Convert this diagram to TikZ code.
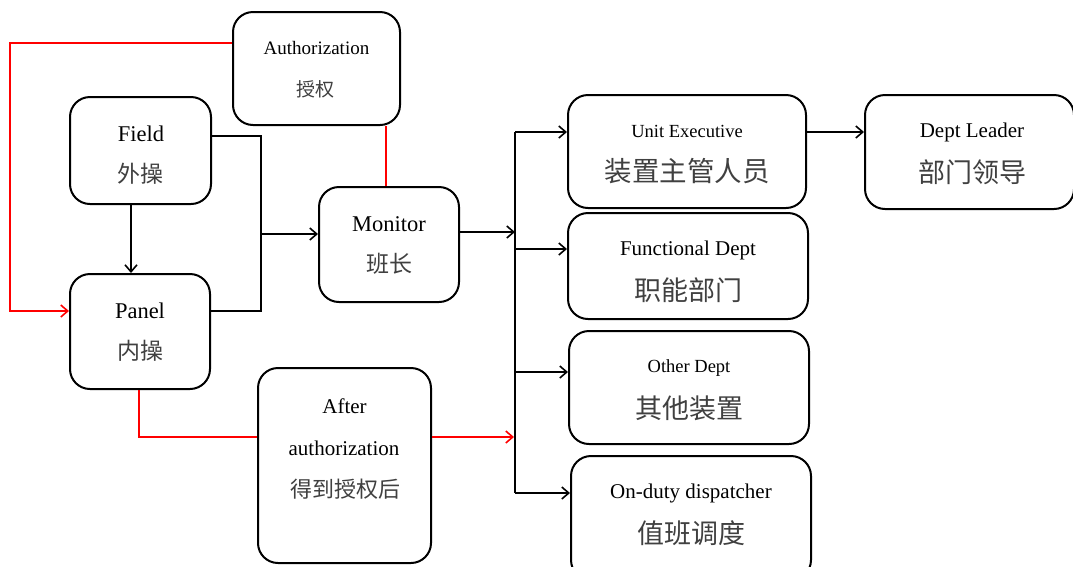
\documentclass[tikz,border=0pt]{standalone}
\usepackage{fontspec}
\setmainfont{Liberation Serif}
\newfontfamily\cjk{Noto Sans CJK SC}
\usetikzlibrary{arrows.meta}
\tikzset{
  box/.style={draw, line width=2pt, rounded corners=20pt, inner sep=0pt},
  txt/.style={inner sep=0pt, text=black},
  zhtxt/.style={inner sep=0pt, text=black!75},
  link/.style={line width=1.7pt},
  authlink/.style={line width=1.6pt, draw=red},
  tip/.style={-{Straight Barb[length=7pt,width=12pt,line width=1.6pt]}},
}
\newcommand{\fs}[1]{\fontsize{#1}{#1}\selectfont}
\begin{document}
\begin{tikzpicture}[x=1pt, y=-1pt]
\useasboundingbox (0,0) rectangle (1073,566);
\clip (0,0) rectangle (1073,566);

% boxes
\node[box, minimum width=167pt, minimum height=113pt] (auth)    at (316.5,68.5) {};
\node[box, minimum width=141pt, minimum height=107pt] (field)   at (140.5,150.5) {};
\node[box, minimum width=140pt, minimum height=115pt] (panel)   at (140,331.5) {};
\node[box, minimum width=140pt, minimum height=115pt] (monitor) at (389,244.5) {};
\node[box, minimum width=173pt, minimum height=195pt] (after)   at (344.5,465.5) {};
\node[box, minimum width=238pt, minimum height=113pt] (unit)    at (687,151.5) {};
\node[box, minimum width=240pt, minimum height=106pt] (func)    at (688,266) {};
\node[box, minimum width=240pt, minimum height=113pt] (other)   at (689,387.5) {};
\node[box, minimum width=240pt, minimum height=124pt] (duty)    at (691,518) {};
\node[box, minimum width=209pt, minimum height=114pt] (leader)  at (969.5,152) {};

% labels
\node[txt, font=\fs{19}]         (authEn)   at (316.5,48) {Authorization};
\node[zhtxt, font=\cjk\fs{19}]   (authZh)   at (315,89) {授权};
\node[txt, font=\fs{22.5}]       (fieldEn)  at (141,134) {Field};
\node[zhtxt, font=\cjk\fs{23}]   (fieldZh)  at (140,174) {外操};
\node[txt, font=\fs{22.5}]       (panelEn)  at (140,311) {Panel};
\node[zhtxt, font=\cjk\fs{23}]   (panelZh)  at (140,351) {内操};
\node[txt, font=\fs{22.5}]       (monEn)    at (389,224) {Monitor};
\node[zhtxt, font=\cjk\fs{23}]   (monZh)    at (389,264) {班长};
\node[txt, font=\fs{21}]         (afterEn)  at (344.5,406) {After};
\node[txt, font=\fs{21}]         (afterEnB) at (344,448) {authorization};
\node[zhtxt, font=\cjk\fs{22}]   (afterZh)  at (345,489) {得到授权后};
\node[txt, font=\fs{18.5}]       (unitEn)   at (687,131) {Unit Executive};
\node[zhtxt, font=\cjk\fs{27.5}] (unitZh)   at (687,171) {装置主管人员};
\node[txt, font=\fs{21}]         (funcEn)   at (688,250) {Functional Dept};
\node[zhtxt, font=\cjk\fs{27}]   (funcZh)   at (688,290) {职能部门};
\node[txt, font=\fs{18.5}]       (otherEn)  at (689,368) {Other Dept};
\node[zhtxt, font=\cjk\fs{27}]   (otherZh)  at (689,408) {其他装置};
\node[txt, font=\fs{21}]         (dutyEn)   at (691,493) {On-duty dispatcher};
\node[zhtxt, font=\cjk\fs{27}]   (dutyZh)   at (691,533) {值班调度};
\node[txt, font=\fs{21}]         (leadEn)   at (972,132) {Dept Leader};
\node[zhtxt, font=\cjk\fs{27}]   (leadZh)   at (972,172) {部门领导};

% junction points
\coordinate (bus)   at (515,0);
\coordinate (mjoin) at (261,0);
\coordinate (uIn)   at ([yshift=19.5pt]unit.west);
\coordinate (fIn)   at ([yshift=17pt]func.west);
\coordinate (oIn)   at ([yshift=15.5pt]other.west);
\coordinate (dIn)   at ([yshift=25pt]duty.west);
\coordinate (mIn)   at ([yshift=10.5pt]monitor.west);
\coordinate (mOut)  at ([yshift=12.5pt]monitor.east);
\coordinate (aIn)   at ([yshift=28.5pt]after.west);
\coordinate (aOut)  at ([yshift=28.5pt]after.east);

% authorization flow (red)
\draw[authlink, tip] ([yshift=25.5pt]auth.west) -- ++(-222,0) |- ([yshift=20.5pt]panel.west);
\draw[authlink] ([xshift=69.5pt]auth.south) -- ([xshift=-3pt]monitor.north);
\draw[authlink] ([xshift=-1pt]panel.south) |- (aIn);
\draw[authlink, tip, shorten >=1pt] (aOut) -- (bus |- aOut);

% field / panel to monitor
\draw[link, tip] ([xshift=-9.5pt]field.south) -- ([xshift=-9pt]panel.north);
\draw[link] ([yshift=14.5pt]field.east) -| (mjoin |- mIn) |- ([yshift=20.5pt]panel.east);
\draw[link, tip] (mjoin |- mIn) -- (mIn);

% monitor to the distribution bus
\draw[link, tip] (mOut) -- (bus |- mOut);
\draw[link] (bus |- uIn) -- (bus |- dIn);
\draw[link, tip] (bus |- uIn) -- (uIn);
\draw[link, tip] (bus |- fIn) -- (fIn);
\draw[link, tip] (bus |- oIn) -- (oIn);
\draw[link, tip] (bus |- dIn) -- (dIn);

% escalation
\draw[link, tip] ([yshift=19.5pt]unit.east) -- ([yshift=20pt]leader.west);
\end{tikzpicture}
\end{document}
